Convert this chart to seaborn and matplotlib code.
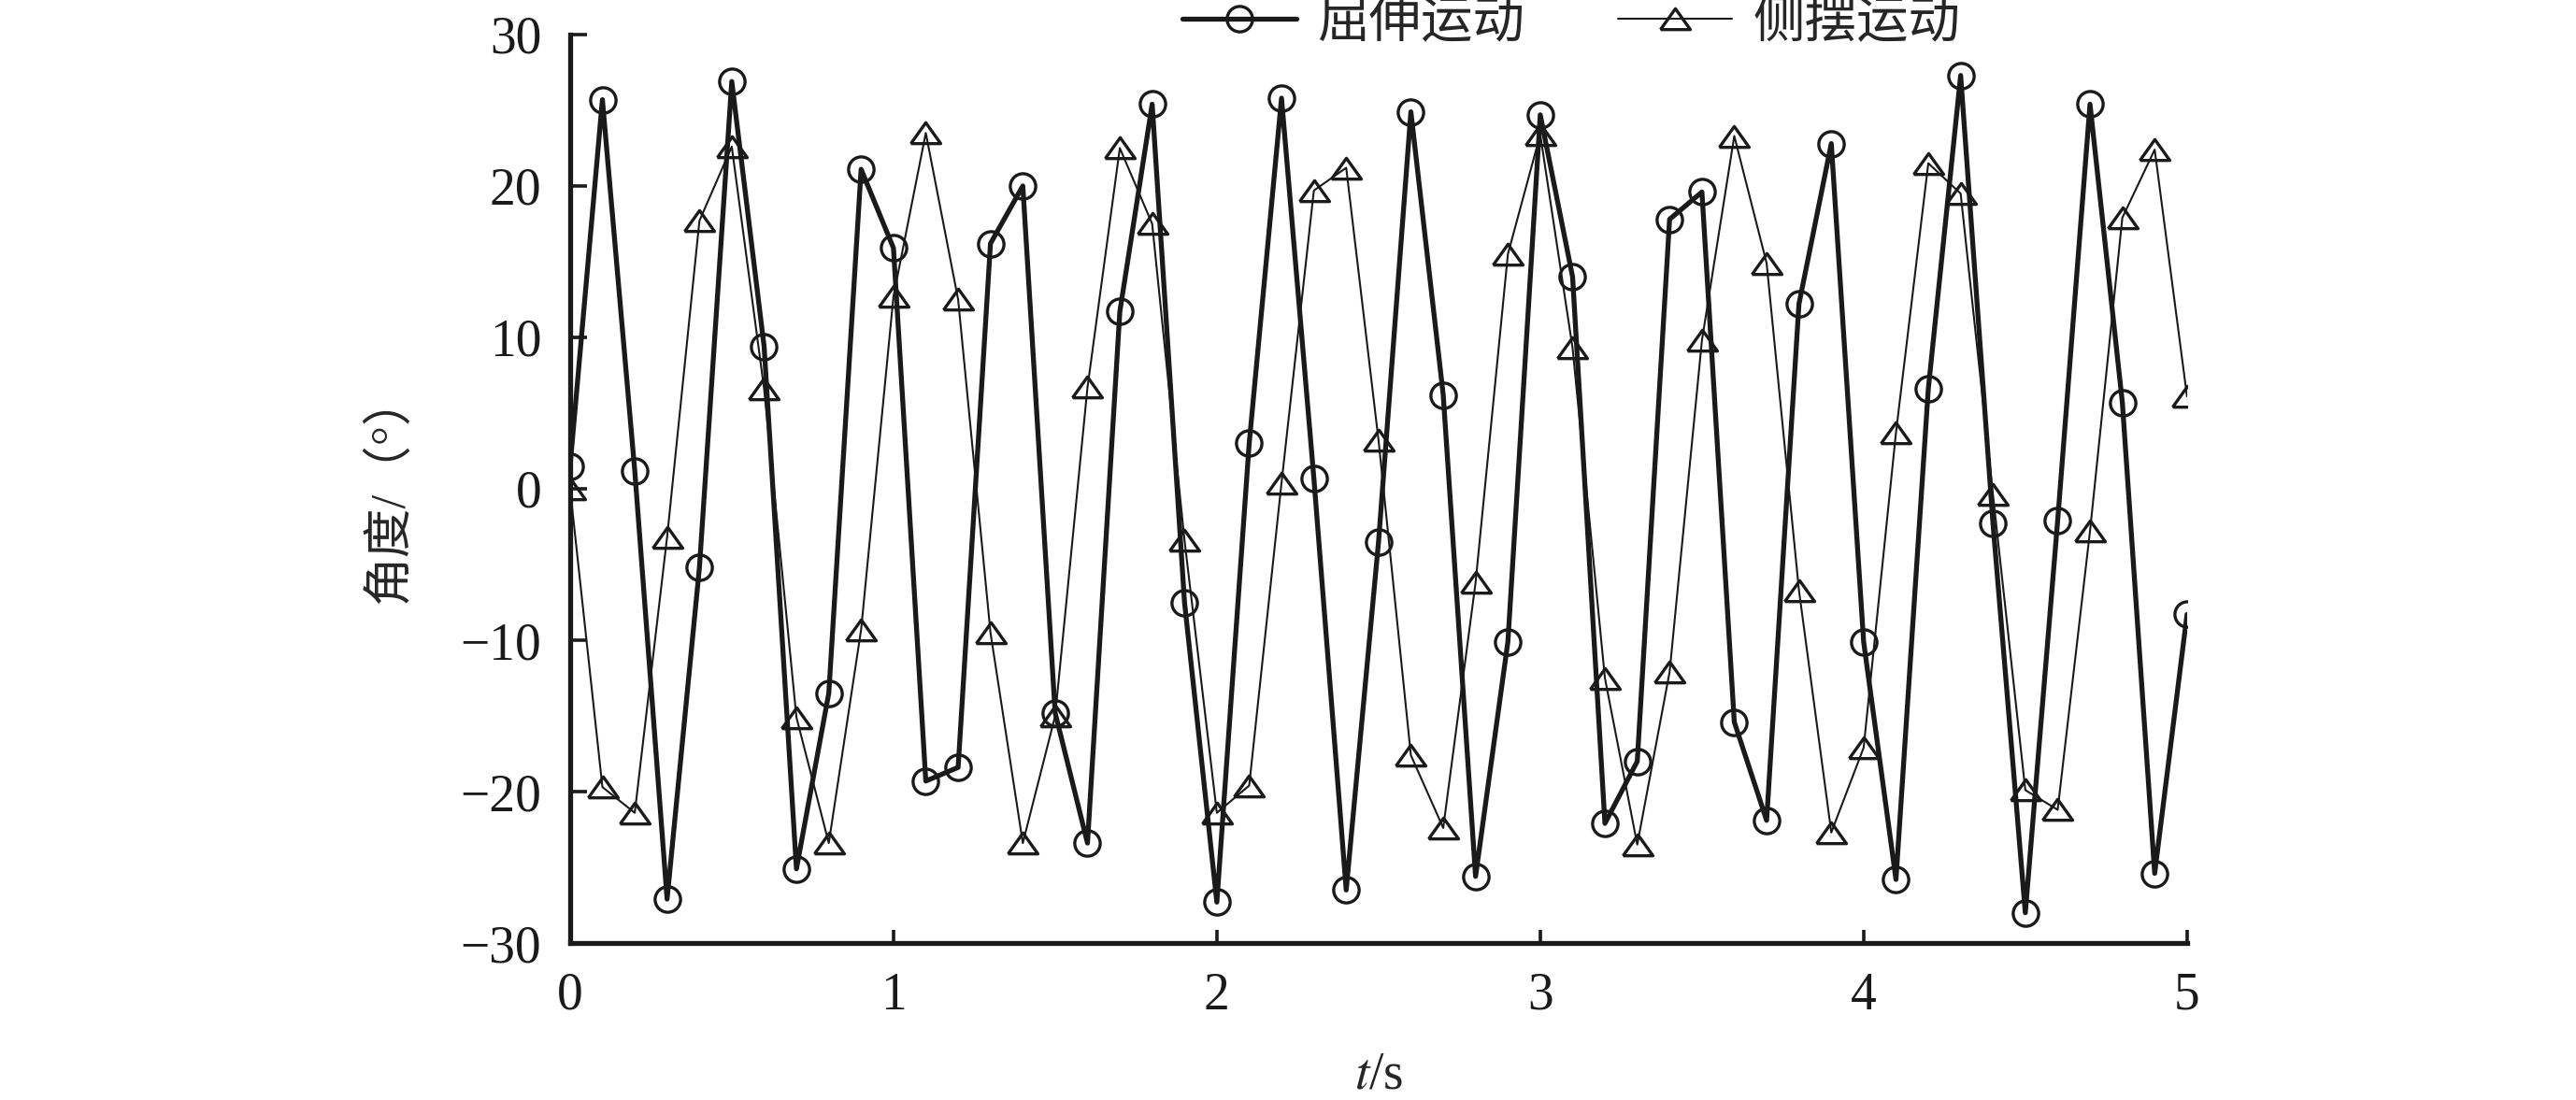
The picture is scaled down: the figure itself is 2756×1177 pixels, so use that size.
import numpy as np
import pandas as pd
import seaborn as sns
import matplotlib.pyplot as plt

# time axis (s)
t = [round(i * 0.1, 1) for i in range(51)]

# 屈伸运动 (flexion-extension), degrees
flex = [1.5, 25.7, 1.2, -27.1, -5.2, 26.9, 9.4, -25.1, -13.5, 21.1,
        15.9, -19.3, -18.4, 16.2, 20.0, -14.8, -23.4, 11.7, 25.4, -7.5,
        -27.3, 3.0, 25.8, 0.7, -26.5, -3.5, 24.9, 6.2, -25.6, -10.1,
        24.7, 14.0, -22.1, -18.0, 17.8, 19.6, -15.4, -21.9, 12.2, 22.8,
        -10.1, -25.8, 6.6, 27.3, -2.3, -28.0, -2.1, 25.4, 5.7, -25.4,
        -8.3]

# 侧摆运动 (lateral swing), degrees
swing = [0.0, -19.7, -21.4, -3.2, 17.7, 22.6, 6.6, -15.1, -23.4, -9.3,
         12.7, 23.5, 12.5, -9.5, -23.4, -15.0, 6.7, 22.5, 17.5, -3.4,
         -21.4, -19.6, 0.4, 19.7, 21.2, 3.2, -17.6, -22.4, -6.2, 15.5,
         23.4, 9.3, -12.5, -23.5, -12.1, 9.8, 23.3, 14.9, -6.7, -22.7,
         -17.1, 3.7, 21.5, 19.5, -0.4, -19.9, -21.2, -2.8, 17.9, 22.4,
         6.1]

df = pd.DataFrame({"t": t, "flex": flex, "swing": swing})

sns.set_style("ticks")
plt.rcParams["font.family"] = ["Liberation Serif", "Noto Sans CJK SC"]
plt.rcParams["mathtext.fontset"] = "stix"
plt.rcParams["axes.unicode_minus"] = True

fig = plt.figure(figsize=(13.78, 5.885), dpi=200)
ax = fig.add_axes([0.2213, 0.1427, 0.6277, 0.8259])

# flattened triangle marker
tri = [(-1, -0.7), (1, -0.7), (0, 0.7), (-1, -0.7)]

sns.lineplot(data=df, x="t", y="flex", ax=ax, color="#1a1a1a", linewidth=1.9,
             marker="o", markersize=9.8, markerfacecolor="none",
             markeredgecolor="#1a1a1a", markeredgewidth=1.2, label="屈伸运动")
sns.lineplot(data=df, x="t", y="swing", ax=ax, color="#1a1a1a", linewidth=0.75,
             marker=tri, markersize=11.5, markerfacecolor="none",
             markeredgecolor="#1a1a1a", markeredgewidth=1.2, label="侧摆运动")

ax.set_xlim(0, 5)
ax.set_ylim(-30, 30)
ax.set_xticks([0, 1, 2, 3, 4, 5])
ax.set_yticks([-30, -20, -10, 0, 10, 20, 30])
ax.set_xticklabels(["0", "1", "2", "3", "4", "5"])
ax.set_yticklabels(["\u221230", "\u221220", "\u221210", "0", "10", "20", "30"])
for s in ["top", "right"]:
    ax.spines[s].set_visible(False)
for s in ["left", "bottom"]:
    ax.spines[s].set_linewidth(1.9)
    ax.spines[s].set_color("#1a1a1a")
ax.tick_params(axis="both", direction="in", width=1.3, colors="#1a1a1a",
               labelsize=20)
ax.tick_params(axis="y", length=6.3, pad=11)
ax.tick_params(axis="x", length=5, pad=11)
ax.set_xlabel("$t$/s", fontsize=20, labelpad=12)
ax.set_ylabel("角度/（°）", fontsize=19, labelpad=18)
ax.margins(0)

ax.get_legend().remove()
h, l = ax.get_legend_handles_labels()
fig.legend(h, l, loc="center", bbox_to_anchor=(0.61, 0.978), ncol=2,
           frameon=False, fontsize=20, handlelength=2.2, columnspacing=1.8,
           handletextpad=0.4, borderpad=0)

fig.savefig("out.png", dpi=200)
